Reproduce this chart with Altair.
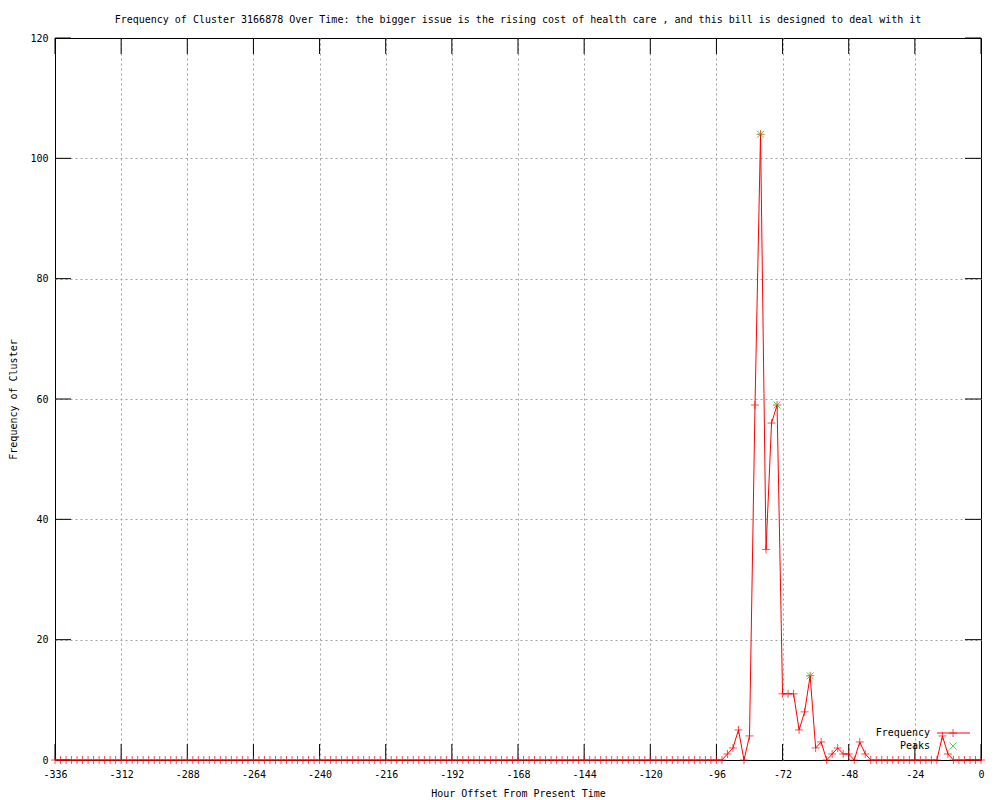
import altair as alt
import pandas as pd

# ---- data ----
hours = list(range(-336, 1, 2))
freq_early = [0] * 121                      # -336 .. -96
freq_burst = [0, 1, 2, 5, 0, 4, 59, 104, 35, 56, 59, 11, 11, 11, 5, 8, 14,
              2, 3, 0, 1, 2, 1, 1, 0, 3, 1]  # -94 .. -42
freq_quiet = [0] * 13                       # -40 .. -16
freq_late = [4, 1, 0, 0, 0, 0, 0, 0]        # -14 .. 0
freq = freq_early + freq_burst + freq_quiet + freq_late

peak_hours = [-80, -74, -62]
peak_freq = [104, 59, 14]

x_ticks = list(range(-336, 1, 24))
y_ticks = list(range(0, 121, 20))

title_text = ("Frequency of Cluster 3166878 Over Time: the bigger issue is the rising "
              "cost of health care , and this bill is designed to deal with it")

df = pd.DataFrame({"hour": hours, "freq": freq})
peaks = pd.DataFrame({"hour": peak_hours, "freq": peak_freq})
xt = pd.DataFrame({"hour": x_ticks})
yt = pd.DataFrame({"freq": y_ticks})
one = pd.DataFrame({"k": [0]})

W, H = 926, 722
FONT = "DejaVu Sans Mono"
FS = 10
TICK = 16

xscale = alt.Scale(domain=[-336, 0], nice=False, zero=False)
yscale = alt.Scale(domain=[0, 120], nice=False)

grid_x = {"condition": {"test": "datum.value == -336 || datum.value == 0", "value": "transparent"},
          "value": "#a0a0a0"}
grid_y = {"condition": {"test": "datum.value == 0 || datum.value == 120", "value": "transparent"},
          "value": "#a0a0a0"}

xaxis = alt.Axis(values=x_ticks, title="Hour Offset From Present Time", ticks=False,
                 domain=False, grid=True, gridColor=grid_x, gridDash=[2, 3],
                 labelExpr="'' + datum.value", labelPadding=9, labelFont=FONT,
                 labelFontSize=FS, labelColor="black", titleFont=FONT, titleFontSize=FS,
                 titleFontWeight="normal", titleColor="black", titleY=33,
                 titleBaseline="middle", labelFlush=False, labelOverlap=False)
yaxis = alt.Axis(values=y_ticks, title="Frequency of Cluster", ticks=False, domain=False,
                 grid=True, gridColor=grid_y, gridDash=[2, 3], labelPadding=7,
                 labelFont=FONT, labelFontSize=FS, labelColor="black", titleFont=FONT,
                 titleFontSize=FS, titleFontWeight="normal", titleColor="black",
                 titleX=-42, titleY=H / 2, titleBaseline="middle", labelFlush=False)


def X():
    return alt.X("hour:Q", scale=xscale, axis=xaxis)


def Y():
    return alt.Y("freq:Q", scale=yscale, axis=yaxis)


PLUS = "M-1,0L1,0M0,-1L0,1"
XSHAPE = "M-1,-1L1,1M-1,1L1,-1"

xt_bottom = alt.Chart(xt).mark_rule(color="black", strokeWidth=1).encode(
    x=X(), y=alt.value(H), y2=alt.value(H - TICK))
xt_top = alt.Chart(xt).mark_rule(color="black", strokeWidth=1).encode(
    x=X(), y=alt.value(0), y2=alt.value(TICK))
yt_left = alt.Chart(yt).mark_rule(color="black", strokeWidth=1).encode(
    y=Y(), x=alt.value(0), x2=alt.value(TICK))
yt_right = alt.Chart(yt).mark_rule(color="black", strokeWidth=1).encode(
    y=Y(), x=alt.value(W), x2=alt.value(W - TICK))

line = alt.Chart(df).mark_line(color="red", strokeWidth=1).encode(x=X(), y=Y())
pts = alt.Chart(df).mark_point(shape=PLUS, color="red", size=64, strokeWidth=1,
                               filled=False).encode(x=X(), y=Y())
pk = alt.Chart(peaks).mark_point(shape=XSHAPE, color="#00c000", size=49, strokeWidth=1,
                                 filled=False).encode(x=X(), y=Y())

# legend (gnuplot style, inside bottom-right)
leg_t1 = alt.Chart(one).mark_text(align="right", baseline="middle", font=FONT,
                                  fontSize=FS, color="black").encode(
    x=alt.value(875), y=alt.value(695), text=alt.value("Frequency"))
leg_t2 = alt.Chart(one).mark_text(align="right", baseline="middle", font=FONT,
                                  fontSize=FS, color="black").encode(
    x=alt.value(875), y=alt.value(708), text=alt.value("Peaks"))
leg_l = alt.Chart(one).mark_rule(color="red", strokeWidth=1).encode(
    x=alt.value(882), x2=alt.value(915), y=alt.value(695))
leg_p = alt.Chart(one).mark_point(shape=PLUS, color="red", size=64, strokeWidth=1,
                                  filled=False).encode(x=alt.value(898), y=alt.value(695))
leg_x = alt.Chart(one).mark_point(shape=XSHAPE, color="#00c000", size=49, strokeWidth=1,
                                  filled=False).encode(x=alt.value(898), y=alt.value(708))

chart = alt.layer(
    xt_bottom, xt_top, yt_left, yt_right, line, pts, pk,
    leg_t1, leg_t2, leg_l, leg_p, leg_x
).properties(
    width=W, height=H,
    title=alt.TitleParams(title_text, font=FONT, fontSize=FS, fontWeight="normal",
                          color="black", anchor="middle", baseline="middle", offset=3),
    autosize=alt.AutoSizeParams(type="none"),
    padding={"left": 47, "top": 30, "right": 11, "bottom": 40},
    background="white",
).configure_view(stroke="black", strokeWidth=1)

chart.save("out.html", embed_options={"renderer": "svg", "actions": False})
